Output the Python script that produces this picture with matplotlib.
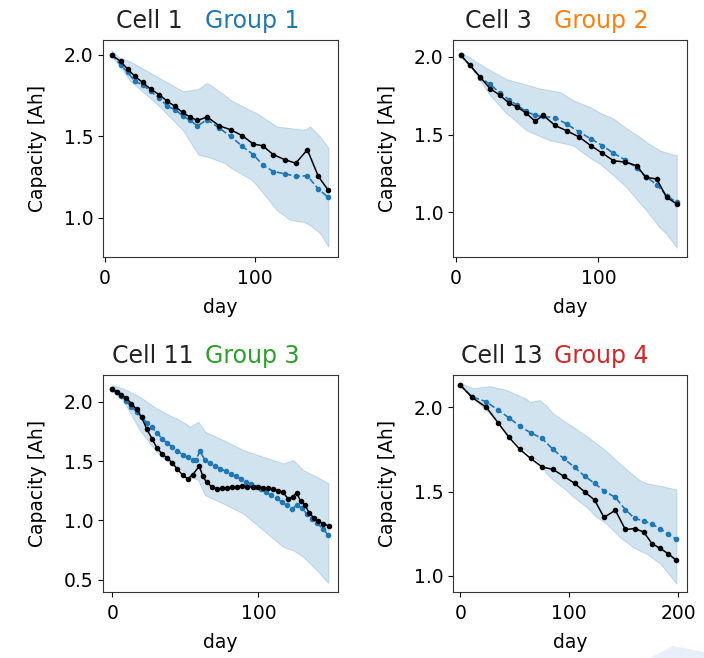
import numpy as np
import matplotlib
matplotlib.use("Agg")
import matplotlib.pyplot as plt
from matplotlib.offsetbox import TextArea, HPacker, AnnotationBbox
from matplotlib.patches import Polygon

# ---- data ----
cells = [1, 3, 11, 13]
groups = [1, 2, 3, 4]
group_colors = ['tab:blue', 'tab:orange', 'tab:green', 'tab:red']

# Cell 1 / Group 1
c1_day = [4.4, 10.4, 15.1, 20, 25.1, 30.4, 36.2, 41.6, 46.7, 51.8, 56.7, 61.6,
          68.2, 76.2, 83.8, 91.6, 98.9, 105.1, 112.2, 120, 127.1, 134.9, 142.2, 148.9]
c1_cap = [2.0, 1.959, 1.912, 1.867, 1.830, 1.789, 1.755, 1.714, 1.683, 1.646, 1.618, 1.597,
          1.618, 1.564, 1.540, 1.503, 1.452, 1.442, 1.387, 1.356, 1.335, 1.417, 1.254, 1.168]
g1_cap = [2.0, 1.939, 1.892, 1.836, 1.816, 1.775, 1.734, 1.683, 1.663, 1.626, 1.597, 1.564,
          1.601, 1.550, 1.499, 1.438, 1.387, 1.325, 1.284, 1.270, 1.254, 1.258, 1.176, 1.125]
g1_band_day = [4.4, 10, 16.7, 34.4, 52.2, 62.2, 67.8, 70, 80, 83.3, 97.8, 101.1,
               114.4, 123.3, 132.2, 134.4, 136.7, 143.3, 148.9]
g1_band_hi = [2.027, 1.980, 1.959, 1.867, 1.775, 1.79, 1.826, 1.816, 1.75, 1.724, 1.655, 1.642,
              1.560, 1.55, 1.540, 1.545, 1.560, 1.499, 1.428]
g1_band_lo = [1.990, 1.928, 1.84, 1.70, 1.535, 1.387, 1.375, 1.37, 1.335, 1.31, 1.233, 1.20,
              1.049, 0.988, 0.975, 0.967, 0.955, 0.906, 0.823]

# Cell 3 / Group 2
c3_day = [3.3, 9.8, 16.9, 23.9, 30.9, 37.2, 43.1, 49.2, 55.5, 61.4, 69.6, 78.2,
          86.7, 94.6, 102.8, 110.6, 118.8, 127, 133.3, 141, 148, 155.1]
c3_cap = [2.011, 1.946, 1.871, 1.796, 1.753, 1.703, 1.677, 1.639, 1.587, 1.624, 1.559, 1.523,
          1.484, 1.430, 1.381, 1.333, 1.323, 1.301, 1.226, 1.215, 1.097, 1.055]
g2_cap = [2.011, 1.946, 1.865, 1.824, 1.768, 1.725, 1.688, 1.650, 1.624, 1.617, 1.609, 1.566,
          1.516, 1.474, 1.430, 1.381, 1.338, 1.286, 1.230, 1.179, 1.108, 1.065]
g2_band_day = [3.3, 12.2, 23.9, 35.6, 37.9, 49.7, 59, 66.1, 73.1, 82.5, 94.2, 101.2,
               110.6, 119.9, 129.3, 134, 143.4, 148, 155.1]
g2_band_hi = [2.032, 1.979, 1.914, 1.855, 1.850, 1.82, 1.796, 1.785, 1.774, 1.72, 1.677, 1.64,
              1.603, 1.54, 1.484, 1.45, 1.398, 1.385, 1.366]
g2_band_lo = [2.0, 1.914, 1.753, 1.635, 1.62, 1.527, 1.49, 1.463, 1.45, 1.430, 1.35, 1.312,
              1.24, 1.161, 1.06, 1.011, 0.90, 0.861, 0.774]

# Cell 11 / Group 3
c11_day = [0, 3, 6, 9.5, 13, 16.5, 20, 23.5, 27, 30.5, 34, 37.5, 41, 44.5, 48, 51.5, 55,
           59.5, 62, 64.5, 68, 71.5, 75, 78.5, 82, 85.5, 89, 92.5, 96, 99.5, 103, 106.5,
           110, 113.5, 117, 120.5, 123.5, 126.3, 129, 132, 135, 138, 141, 144.5, 148.7]
c11_cap = [2.105, 2.085, 2.06, 2.03, 1.985, 1.935, 1.87, 1.77, 1.69, 1.61, 1.56, 1.525,
           1.485, 1.43, 1.385, 1.35, 1.385, 1.457, 1.37, 1.32, 1.285, 1.265, 1.27, 1.275,
           1.28, 1.285, 1.29, 1.285, 1.28, 1.28, 1.275, 1.27, 1.265, 1.25, 1.235, 1.18,
           1.2, 1.231, 1.16, 1.127, 1.06, 1.02, 0.995, 0.97, 0.95]
g3_day = [0, 3, 6, 9.5, 13, 16.5, 20, 23.5, 27, 30.5, 34, 37.5, 41, 44.5, 48, 51.5, 55,
          57, 60, 63.5, 67, 70.5, 74, 77.5, 81, 84.5, 88, 91.5, 95, 98.5, 102, 105.5,
          109, 112.5, 116, 119.5, 123, 126.5, 130, 133.5, 137, 140.5, 144, 148]
g3_cap = [2.105, 2.08, 2.05, 2.005, 1.96, 1.915, 1.87, 1.825, 1.785, 1.735, 1.69, 1.65,
          1.62, 1.585, 1.555, 1.53, 1.51, 1.505, 1.585, 1.505, 1.48, 1.46, 1.435, 1.415,
          1.39, 1.37, 1.35, 1.325, 1.305, 1.285, 1.26, 1.235, 1.21, 1.185, 1.155, 1.125,
          1.095, 1.13, 1.10, 1.05, 1.01, 0.975, 0.93, 0.875]
g3_band_day = [0, 7.3, 18.7, 30.2, 41.6, 43.9, 50.8, 53.1, 58.8, 63.4, 76, 89.7,
               103.4, 117.1, 124, 130.8, 140, 148]
g3_band_hi = [2.141, 2.113, 2.042, 1.944, 1.87, 1.860, 1.81, 1.789, 1.831, 1.747, 1.677, 1.592,
              1.535, 1.480, 1.508, 1.423, 1.367, 1.311]
g3_band_lo = [2.084, 2.014, 1.761, 1.578, 1.46, 1.45, 1.40, 1.367, 1.34, 1.212, 1.142, 1.057,
              0.916, 0.775, 0.747, 0.691, 0.579, 0.471]

# Cell 13 / Group 4
c13_day = [0, 10.7, 23.9, 34.6, 44.7, 54.5, 64.6, 75, 85.1, 94.9, 105.1, 114.2,
           123.4, 132, 142.4, 151.6, 160.2, 168.5, 176.1, 183.8, 190.8, 198.5]
c13_cap = [2.132, 2.059, 2.0, 1.909, 1.822, 1.752, 1.697, 1.647, 1.632, 1.592, 1.549, 1.499,
           1.450, 1.347, 1.390, 1.276, 1.281, 1.261, 1.192, 1.163, 1.133, 1.093]
g4_cap = [2.132, 2.063, 2.033, 1.984, 1.938, 1.889, 1.849, 1.816, 1.751, 1.697, 1.644, 1.592,
          1.549, 1.505, 1.466, 1.394, 1.341, 1.327, 1.307, 1.281, 1.248, 1.218]
g4_band_day = [0, 11.6, 26.9, 42.3, 60.7, 63.7, 72.9, 79, 85.1, 97.4, 103.5, 115.8,
               125, 134.2, 146.4, 158.6, 164.8, 171, 180.1, 183.8, 198.5]
g4_band_hi = [2.143, 2.113, 2.126, 2.103, 2.05, 2.033, 2.043, 2.01, 1.964, 1.91, 1.885, 1.83,
              1.786, 1.74, 1.667, 1.60, 1.568, 1.55, 1.539, 1.535, 1.513]
g4_band_lo = [2.122, 2.053, 1.964, 1.846, 1.74, 1.727, 1.67, 1.608, 1.57, 1.509, 1.47, 1.410,
              1.35, 1.311, 1.232, 1.172, 1.150, 1.133, 1.09, 1.074, 0.955]

panels = [
    (c1_day, c1_cap, c1_day, g1_cap, g1_band_day, g1_band_lo, g1_band_hi),
    (c3_day, c3_cap, c3_day, g2_cap, g2_band_day, g2_band_lo, g2_band_hi),
    (c11_day, c11_cap, g3_day, g3_cap, g3_band_day, g3_band_lo, g3_band_hi),
    (c13_day, c13_cap, c13_day, g4_cap, g4_band_day, g4_band_lo, g4_band_hi),
]
xlims = [(-1.3, 155.3), (-2.1, 162.3), (-6.5, 154.6), (-6.8, 208.3)]
ylims = [(0.76, 2.09), (0.714, 2.108), (0.395, 2.226), (0.905, 2.192)]
xticks = [[0, 100], [0, 100], [0, 100], [0, 100, 200]]
yticks = [[1.0, 1.5, 2.0], [1.0, 1.5, 2.0], [0.5, 1.0, 1.5, 2.0], [1.0, 1.5, 2.0]]
title_gap = [16, 16, 8, 8]

W, H = 704, 658
boxes = [(103, 40, 338, 257), (453, 40, 687, 257),
         (103, 375, 338, 592), (453, 375, 687, 592)]

plt.rcParams['font.size'] = 13.5
fig = plt.figure(figsize=(W / 100, H / 100), dpi=100)

for i, (cd, cc, gd, gc, bd, blo, bhi) in enumerate(panels):
    x0, y0, x1, y1 = boxes[i]
    ax = fig.add_axes([x0 / W, 1 - y1 / H, (x1 - x0) / W, (y1 - y0) / H])
    ax.fill_between(bd, blo, bhi, color='tab:blue', alpha=0.2, lw=0.8)
    ax.plot(gd, gc, '--o', color='tab:blue', ms=3, lw=1.2)
    ax.plot(cd, cc, '-o', color='k', ms=3, lw=1.1)
    ax.set_xlim(xlims[i])
    ax.set_ylim(ylims[i])
    ax.set_xticks(xticks[i])
    ax.set_yticks(yticks[i])
    ax.tick_params(axis='x', pad=5)
    ax.set_xlabel('day', labelpad=7)
    ax.set_ylabel('Capacity [Ah]', labelpad=12)
    for s in ax.spines.values():
        s.set_color('#333333')

    t1 = TextArea(f'Cell {cells[i]}', textprops=dict(color='#222222', size=17))
    t2 = TextArea(f'Group {groups[i]}', textprops=dict(color=group_colors[i], size=17))
    pack = HPacker(children=[t1, t2], sep=title_gap[i], pad=0, align='baseline')
    ab = AnnotationBbox(pack, (1, 1), xycoords='axes fraction', xybox=(-28, 5),
                        boxcoords='offset points', box_alignment=(1, 0),
                        frameon=False, pad=0)
    ax.add_artist(ab)

# faint screenshot artefact in the lower right corner
corner = np.array([[650, 658], [673, 646], [704, 652], [704, 658]], dtype=float)
corner[:, 0] /= W
corner[:, 1] = 1 - corner[:, 1] / H
fig.patches.append(Polygon(corner, closed=True, transform=fig.transFigure,
                           facecolor='#e8eff8', edgecolor='none'))

fig.savefig('out.png', dpi=100)
